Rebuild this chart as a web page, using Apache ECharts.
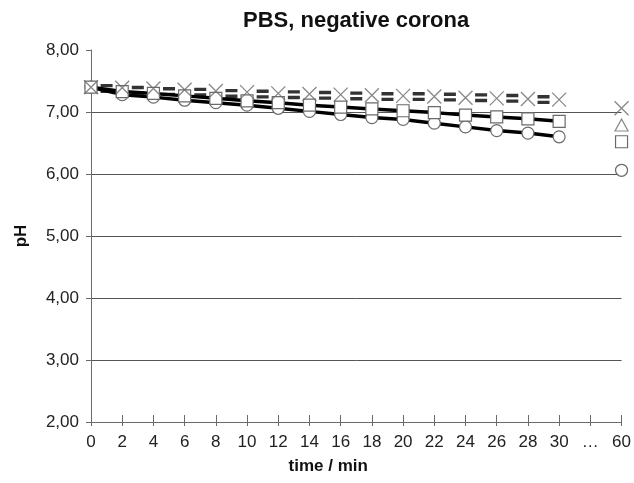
<!DOCTYPE html>
<html>
<head>
<meta charset="utf-8">
<script src="https://cdn.jsdelivr.net/npm/echarts@6/dist/echarts.min.js"></script>
<style>
  html, body { margin: 0; padding: 0; background: #fff; }
  #chart { width: 634px; height: 483px; }
</style>
</head>
<body>
<div id="chart"></div>
<script>
// minutes sampled, the gap marker and the 60 min reading
const evenMinutes = [0, 2, 4, 6, 8, 10, 12, 14, 16, 18, 20, 22, 24, 26, 28, 30]
const oddMinutes = [1, 3, 5, 7, 9, 11, 13, 15, 17, 19, 21, 23, 25, 27, 29]
const xTickLabels = ['0', '2', '4', '6', '8', '10', '12', '14', '16', '18', '20', '22', '24', '26', '28', '30', '…', '60']
const END_SLOT = 34 // axis slot where the 60 min value sits

// pH readings (comma decimal in labels)
const crossValues = [7.40, 7.39, 7.38, 7.36, 7.34, 7.32, 7.30, 7.29, 7.28, 7.27, 7.26, 7.25, 7.23, 7.22, 7.21, 7.20]
const crossEnd = 7.06
const triangleValues = [7.38, 7.35, 7.33, 7.32, 7.30, 7.29, 7.28, 7.27, 7.26, 7.25, 7.25, 7.24, 7.23, 7.22, 7.20]
const triangleEnd = 6.79
const squareValues = [7.40, 7.33, 7.30, 7.26, 7.22, 7.18, 7.15, 7.11, 7.08, 7.05, 7.02, 6.99, 6.95, 6.92, 6.89, 6.85]
const squareEnd = 6.52
const circleValues = [7.40, 7.28, 7.24, 7.19, 7.15, 7.11, 7.06, 7.01, 6.96, 6.91, 6.88, 6.82, 6.76, 6.70, 6.66, 6.60]
const circleEnd = 6.06

const FONT = 'Liberation Sans, Arial, sans-serif'
const GREY = '#6a6a6a'
const CROSS = 'path://M0,0L10,10M10,0L0,10'
const BARS = 'path://M0,0H10V3H0ZM0,5H10V8H0Z'

function withEnd(minutes, values, end) {
  const pts = minutes.map((m, i) => [m, values[i]])
  pts.push([31, null])
  pts.push([END_SLOT, end])
  return pts
}

const chart = echarts.init(document.getElementById('chart'), null, { renderer: 'canvas' })

const triangleData = oddMinutes.map((m, i) => [m, triangleValues[i]])
triangleData.push({
  value: [END_SLOT, triangleEnd],
  symbol: 'triangle',
  symbolSize: [13, 12],
  itemStyle: { color: '#fff', borderColor: GREY, borderWidth: 1.2 }
})

chart.setOption({
  animation: false,
  backgroundColor: '#fff',
  title: {
    text: 'PBS, negative corona',
    left: 238,
    top: 5,
    textStyle: { fontFamily: FONT, fontSize: 22, fontWeight: 'bold', color: '#111' }
  },
  grid: { left: 91, right: 12, top: 50, bottom: 61 },
  xAxis: [
    {
      type: 'value',
      min: 0,
      max: END_SLOT,
      interval: 2,
      name: 'time / min',
      nameLocation: 'middle',
      nameGap: 36,
      nameTextStyle: { fontFamily: FONT, fontSize: 17, fontWeight: 'bold', color: '#111', padding: [0, 56, 0, 0] },
      axisLine: { lineStyle: { color: GREY, width: 1 } },
      axisTick: { show: true, inside: false, length: 4, lineStyle: { color: GREY } },
      axisLabel: {
        fontFamily: FONT, fontSize: 17, color: '#222', margin: 12,
        formatter: (v) => xTickLabels[Math.round(v / 2)] ?? ''
      },
      splitLine: { show: false }
    },
    {
      type: 'value',
      min: 0,
      max: END_SLOT,
      interval: 2,
      position: 'bottom',
      axisLine: { show: false },
      axisTick: { show: true, inside: true, length: 7, lineStyle: { color: GREY } },
      axisLabel: { show: false },
      splitLine: { show: false }
    }
  ],
  yAxis: {
    type: 'value',
    min: 2,
    max: 8,
    interval: 1,
    name: 'pH',
    nameLocation: 'middle',
    nameGap: 61,
    nameTextStyle: { fontFamily: FONT, fontSize: 17, fontWeight: 'bold', color: '#111' },
    axisLine: { show: true, lineStyle: { color: GREY, width: 1 } },
    axisTick: { show: true, inside: false, length: 5, lineStyle: { color: GREY } },
    axisLabel: {
      fontFamily: FONT, fontSize: 17, color: '#222', margin: 12,
      formatter: (v) => v.toFixed(2).replace('.', ',')
    },
    splitLine: { show: true, showMaxLine: false, lineStyle: { color: '#555', width: 1 } }
  },
  series: [
    {
      name: 'circles',
      type: 'line',
      data: withEnd(evenMinutes, circleValues, circleEnd),
      connectNulls: false,
      symbol: 'circle',
      symbolSize: 12,
      showAllSymbol: true,
      lineStyle: { color: '#000', width: 3.5 },
      itemStyle: { color: '#fff', borderColor: GREY, borderWidth: 1.2 },
      z: 2
    },
    {
      name: 'squares',
      type: 'line',
      data: withEnd(evenMinutes, squareValues, squareEnd),
      connectNulls: false,
      symbol: 'rect',
      symbolSize: 12,
      showAllSymbol: true,
      lineStyle: { color: '#000', width: 3.5 },
      itemStyle: { color: '#fff', borderColor: GREY, borderWidth: 1.2 },
      z: 3
    },
    {
      name: 'triangles',
      type: 'scatter',
      data: triangleData,
      symbol: BARS,
      symbolSize: [12, 9],
      itemStyle: { color: '#000' },
      z: 4
    },
    {
      name: 'crosses',
      type: 'scatter',
      data: withEnd(evenMinutes, crossValues, crossEnd).filter((p) => p[1] !== null),
      symbol: CROSS,
      symbolSize: 14,
      itemStyle: { color: 'none', borderColor: GREY, borderWidth: 1.3 },
      z: 5
    }
  ]
})
</script>
</body>
</html>
